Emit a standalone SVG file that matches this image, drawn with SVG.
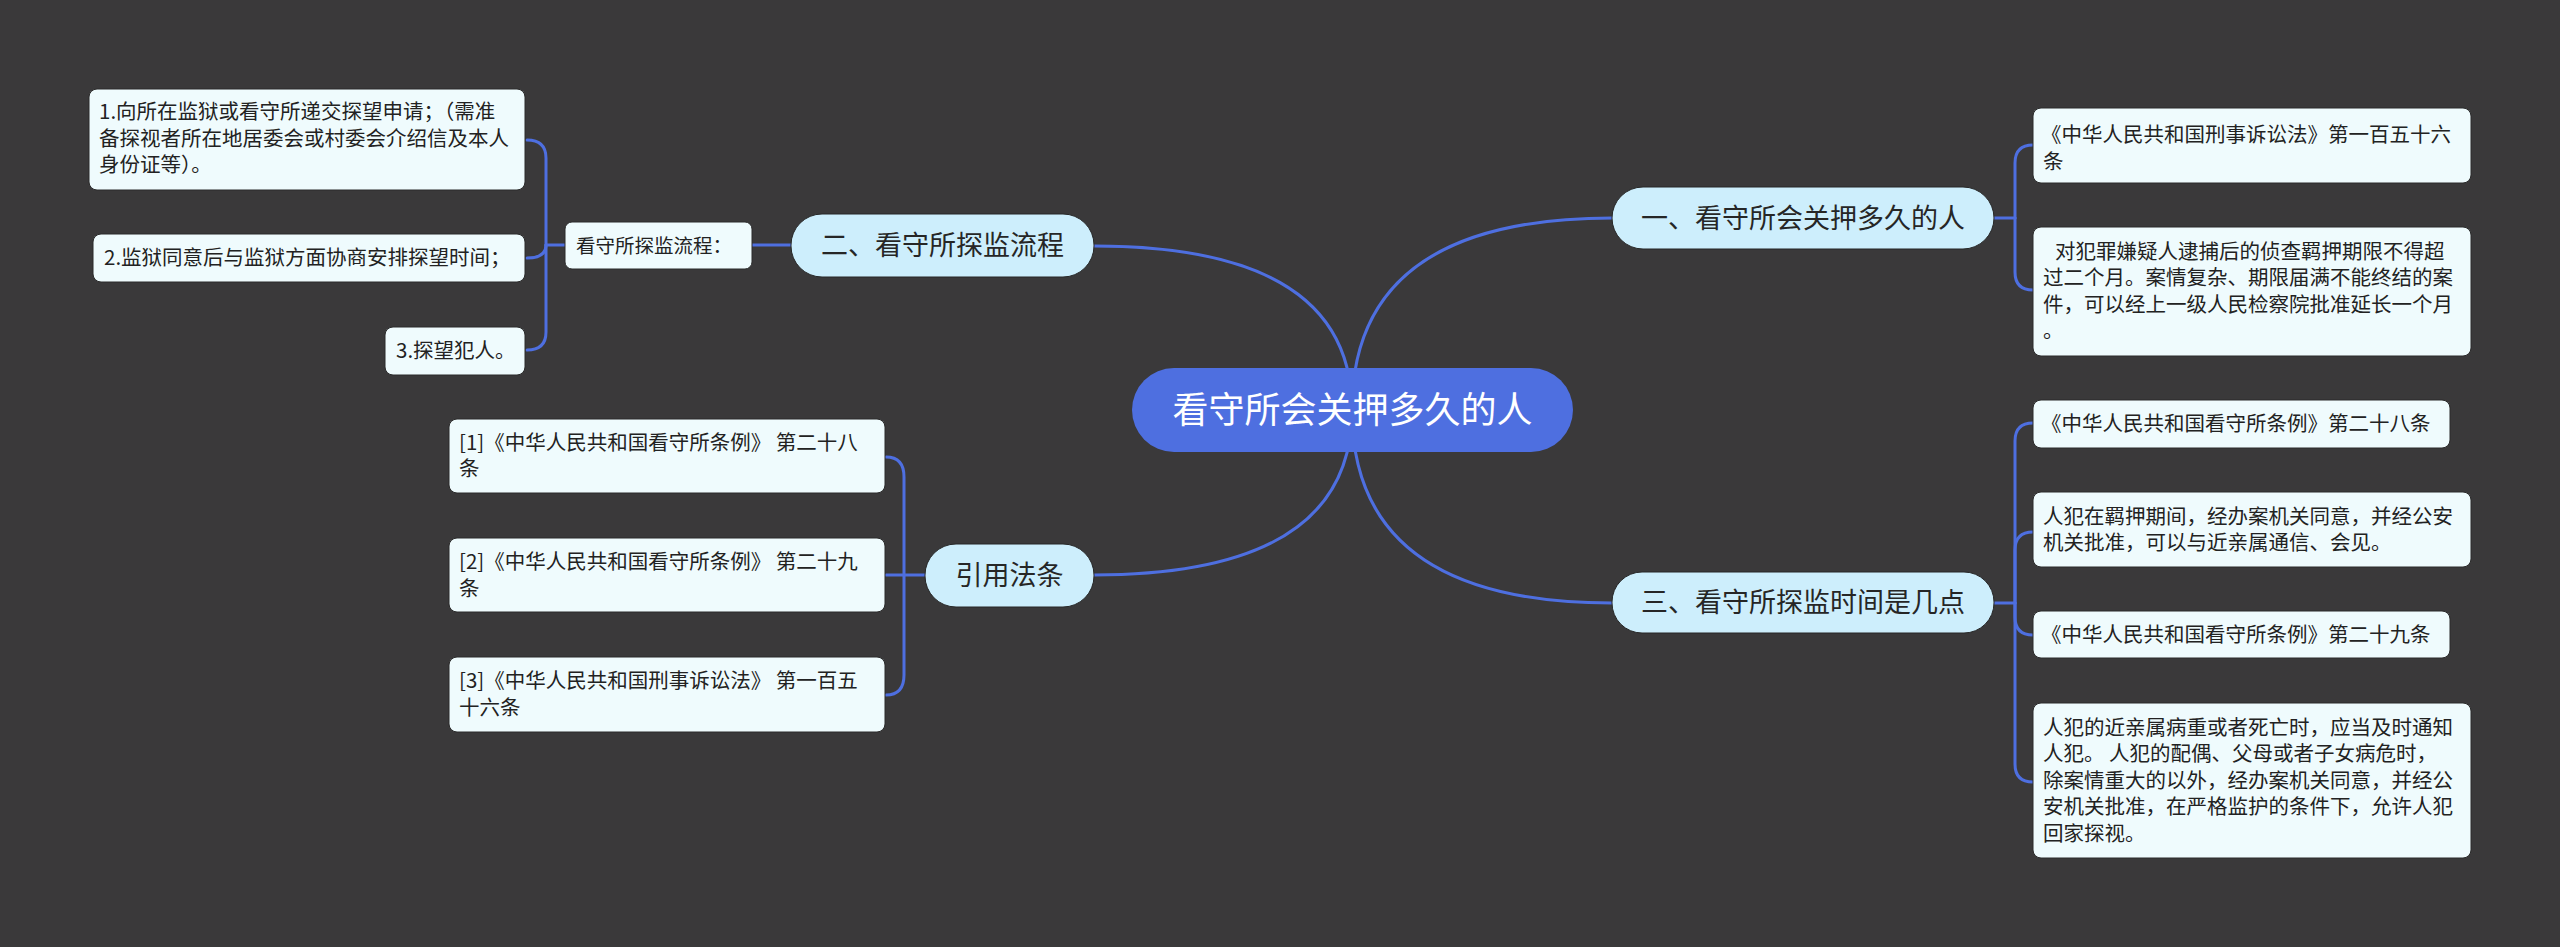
<svg xmlns="http://www.w3.org/2000/svg" width="2560" height="947" viewBox="0 0 2560 947">
<style>
.bg{fill:#3a393a}
.conn path{fill:none;stroke:#4e6fe0;stroke-width:3;stroke-linecap:round}
.root rect{fill:#4e6fe0}
.root text{fill:#ffffff;font-size:36px;text-anchor:middle}
.l1 rect{fill:#cdeefc;stroke:#262626;stroke-width:1}
.l1 text{fill:#262626;font-size:27px;text-anchor:middle}
.leaf rect{fill:#effbfd;stroke:#2a2a2a;stroke-width:1}
.leaf text{fill:#222222;font-size:20.5px}
text{font-family:"Noto Sans CJK SC","Microsoft YaHei",sans-serif}
</style>
<rect class="bg" x="0" y="0" width="2560" height="947"/>
<g id="connectors" class="conn">
<path d="M1352 410 Q1352 246 1094 246"/>
<path d="M1352 410 Q1352 218 1612 218"/>
<path d="M1352 410 Q1352 575 1094 575"/>
<path d="M1352 410 Q1352 603 1612 603"/>
<path d="M791 245 H752"/>
<path d="M565 245 H546"/>
<path d="M546 245 V158 Q546 140 527 140"/>
<path d="M546 245 Q546 258 527 258"/>
<path d="M546 245 V332 Q546 350 527 350"/>
<path d="M925 575 H886"/>
<path d="M904 575 V477 Q904 457 886 457"/>
<path d="M904 575 V675 Q904 695 886 695"/>
<path d="M1994 218 H2015"/>
<path d="M2015 218 V163 Q2015 145 2033 145"/>
<path d="M2015 218 V272 Q2015 290 2033 290"/>
<path d="M1994 603 H2015"/>
<path d="M2015 603 V441 Q2015 423 2033 423"/>
<path d="M2015 603 V550 Q2015 532 2033 532"/>
<path d="M2015 603 V617 Q2015 635 2033 635"/>
<path d="M2015 603 V764 Q2015 782 2033 782"/>
</g>
<g id="root" class="root">
<rect x="1132" y="368" width="441" height="84" rx="42"/>
<text x="1352.5" y="422.5">看守所会关押多久的人</text>
</g>
<g id="n1" class="l1">
<rect x="1612" y="187" width="382" height="62" rx="31"/>
<text x="1803" y="227.5">一、看守所会关押多久的人</text>
</g>
<g id="n2" class="l1">
<rect x="791" y="214" width="303" height="63" rx="31"/>
<text x="942.5" y="255">二、看守所探监流程</text>
</g>
<g id="n3" class="l1">
<rect x="1612" y="572" width="382" height="61" rx="30"/>
<text x="1803" y="612">三、看守所探监时间是几点</text>
</g>
<g id="n4" class="l1">
<rect x="925" y="544" width="169" height="63" rx="31"/>
<text x="1009.5" y="585">引用法条</text>
</g>
<g id="n1a" class="leaf">
<rect x="2033" y="108" width="438" height="75" rx="8"/>
<text x="2041" y="142">《中华人民共和国刑事诉讼法》第一百五十六</text>
<text x="2043" y="168.5">条</text>
</g>
<g id="n1b" class="leaf">
<rect x="2033" y="227" width="438" height="129" rx="8"/>
<text x="2055" y="258.5">对犯罪嫌疑人逮捕后的侦查羁押期限不得超</text>
<text x="2043" y="285">过二个月。案情复杂、期限届满不能终结的案</text>
<text x="2043" y="311.5">件，可以经上一级人民检察院批准延长一个月</text>
<text x="2043" y="338">。</text>
</g>
<g id="n2p" class="leaf">
<rect x="565" y="222" width="187" height="47" rx="7"/>
<text x="576" y="252.5" style="font-size:19.5px">看守所探监流程：</text>
</g>
<g id="n2a" class="leaf">
<rect x="89" y="89" width="436" height="101" rx="8"/>
<text x="99" y="119">1.向所在监狱或看守所递交探望申请；（需准</text>
<text x="99" y="145.5">备探视者所在地居委会或村委会介绍信及本人</text>
<text x="99" y="172">身份证等）。</text>
</g>
<g id="n2b" class="leaf">
<rect x="93" y="234" width="432" height="48" rx="8"/>
<text x="104" y="265">2.监狱同意后与监狱方面协商安排探望时间；</text>
</g>
<g id="n2c" class="leaf">
<rect x="385" y="327" width="140" height="48" rx="8"/>
<text x="396" y="358">3.探望犯人。</text>
</g>
<g id="n3a" class="leaf">
<rect x="2033" y="400" width="417" height="48" rx="8"/>
<text x="2041" y="431">《中华人民共和国看守所条例》第二十八条</text>
</g>
<g id="n3b" class="leaf">
<rect x="2033" y="492" width="438" height="75" rx="8"/>
<text x="2043" y="523.5">人犯在羁押期间，经办案机关同意，并经公安</text>
<text x="2043" y="550">机关批准，可以与近亲属通信、会见。</text>
</g>
<g id="n3c" class="leaf">
<rect x="2033" y="611" width="417" height="47" rx="8"/>
<text x="2041" y="641.5">《中华人民共和国看守所条例》第二十九条</text>
</g>
<g id="n3d" class="leaf">
<rect x="2033" y="703" width="438" height="155" rx="8"/>
<text x="2043" y="734.5">人犯的近亲属病重或者死亡时，应当及时通知</text>
<text x="2043" y="761">人犯。 人犯的配偶、父母或者子女病危时，</text>
<text x="2043" y="787.5">除案情重大的以外，经办案机关同意，并经公</text>
<text x="2043" y="814">安机关批准，在严格监护的条件下，允许人犯</text>
<text x="2043" y="840.5">回家探视。</text>
</g>
<g id="n4a" class="leaf">
<rect x="449" y="419" width="436" height="74" rx="8"/>
<text x="459" y="450">[1]《中华人民共和国看守所条例》 第二十八</text>
<text x="459" y="476">条</text>
</g>
<g id="n4b" class="leaf">
<rect x="449" y="538" width="436" height="74" rx="8"/>
<text x="459" y="569">[2]《中华人民共和国看守所条例》 第二十九</text>
<text x="459" y="595.5">条</text>
</g>
<g id="n4c" class="leaf">
<rect x="449" y="657" width="436" height="75" rx="8"/>
<text x="459" y="688">[3]《中华人民共和国刑事诉讼法》 第一百五</text>
<text x="459" y="714.5">十六条</text>
</g>
</svg>
